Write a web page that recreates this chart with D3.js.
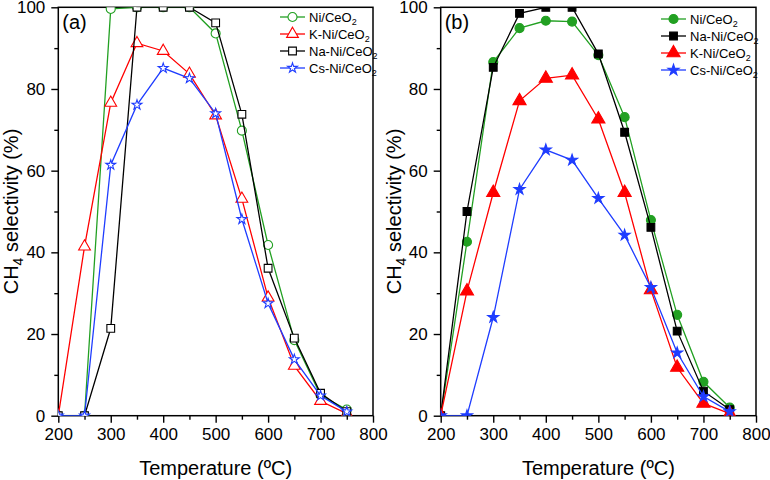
<!DOCTYPE html>
<html><head><meta charset="utf-8">
<script src="https://cdn.jsdelivr.net/npm/d3@7"></script>
<style>body{margin:0;background:#fff}svg{display:block}text{font-family:"Liberation Sans",Arial,sans-serif}</style>
</head><body>
<svg id="c" width="770" height="480"></svg>
<script>
const temps = [200,250,300,350,400,450,500,550,600,650,700,750];
// panel (a)
const aNi   = [0,0,99.6,100,100,100,93.6,69.8,41.8,18.5,5,1.5];
const aK    = [0,41.4,76.6,91.2,89.3,83.7,73.5,53.1,28.9,12.2,3.6,0.5];
const aNa   = [0,0,21.4,100,100,100,96.2,73.8,36.1,19,5.5,1];
const aCs   = [0,0,61.4,76.1,85.1,82.6,74,48.1,27.5,13.8,4.9,1];
// panel (b)
const bNi   = [0,42.6,86.6,94.9,96.7,96.5,88.3,73.1,47.9,24.7,8.3,2];
const bNa   = [0,50,85.3,98.5,100,100,88.6,69.4,46.1,20.7,6,1.5];
const bK    = [0,30.5,54.6,77.1,82.6,83.4,72.6,54.6,30.8,11.8,3,0.5];
const bCs   = [0,0,24.1,55.4,65.1,62.6,53.2,44.2,31.4,15.4,4.7,1];
const xTicks = [200,300,400,500,600,700,800];
const xMinor = [250,350,450,550,650,750];
const yTicks = [0,20,40,60,80,100];
const yMinor = [10,30,50,70,90];

const GREEN="#22a022", RED="#ff0000", BLACK="#000000", BLUE="#1f3dff";

const svg = d3.select("#c");
const FONT = '"Liberation Sans",Arial,sans-serif';

function panel(opt){
  const x = d3.scaleLinear().domain([200,800]).range([opt.x0, opt.x1]);
  const y = d3.scaleLinear().domain([0,100]).range([415.7, 7.3]);
  const g = svg.append("g");
  const cid = "clip"+opt.id;
  svg.append("defs").append("clipPath").attr("id",cid).append("rect")
    .attr("x",opt.x0).attr("y",y(100)).attr("width",opt.x1-opt.x0).attr("height",y(0)-y(100));
  g.append("g").attr("transform",`translate(0,${y(0)})`)
    .call(d3.axisBottom(x).tickValues(xTicks).tickSize(7).tickPadding(5).tickFormat(d3.format("d")));
  g.append("g").attr("transform",`translate(0,${y(0)})`)
    .call(d3.axisBottom(x).tickValues(xMinor).tickSize(4).tickFormat(""));
  g.append("g").attr("transform",`translate(${opt.x0},0)`)
    .call(d3.axisLeft(y).tickValues(yTicks).tickSize(7).tickPadding(6).tickFormat(d3.format("d")));
  g.append("g").attr("transform",`translate(${opt.x0},0)`)
    .call(d3.axisLeft(y).tickValues(yMinor).tickSize(4).tickFormat(""));
  g.selectAll(".domain").remove();
  g.selectAll(".tick line").attr("stroke","#000").attr("stroke-width",1.4);
  g.selectAll(".tick text").attr("font-size",17).attr("font-family",FONT).attr("fill","#000");
  g.append("rect").attr("x",opt.x0).attr("y",y(100)).attr("width",opt.x1-opt.x0).attr("height",y(0)-y(100))
    .attr("fill","none").attr("stroke","#000").attr("stroke-width",1.5);
  const plot = g.append("g").attr("clip-path",`url(#${cid})`);
  const line = d3.line().x((d,i)=>x(temps[i])).y(d=>y(d));
  opt.series.forEach(s=>{
    const sg = plot.append("g");
    sg.append("path").datum(s.data).attr("d",line).attr("fill","none").attr("stroke",s.color).attr("stroke-width",1.3);
    sg.selectAll("path.m").data(s.data).enter().append("path").attr("class","m")
      .attr("d",d3.symbol().type(s.sym).size(s.size))
      .attr("transform",(d,i)=>`translate(${x(temps[i])},${y(d)})`)
      .attr("fill",opt.filled? s.color : "#fff").attr("stroke",s.color).attr("stroke-width",1.1);
  });
  const lg = g.append("g");
  opt.series.forEach((s,i)=>{
    const yy = opt.legY + i*17;
    lg.append("line").attr("x1",opt.legX).attr("x2",opt.legX+25).attr("y1",yy).attr("y2",yy)
      .attr("stroke",s.color).attr("stroke-width",1.3);
    lg.append("path").attr("d",d3.symbol().type(s.sym).size(s.size))
      .attr("transform",`translate(${opt.legX+12.5},${yy})`)
      .attr("fill",opt.filled? s.color : "#fff").attr("stroke",s.color).attr("stroke-width",1.1);
    const t = lg.append("text").attr("x",opt.legX+29).attr("y",yy+4.5).attr("font-size",13).attr("fill","#000");
    t.append("tspan").text(s.name);
    t.append("tspan").attr("font-size",9).attr("dy",3).text("2");
  });
  g.append("text").attr("x",opt.x0+4).attr("y",29).attr("font-size",20).text(opt.label);
  g.append("text").attr("x",(opt.x0+opt.x1)/2).attr("y",475).attr("text-anchor","middle")
    .attr("font-size",20).text("Temperature (ºC)");
  const yt = g.append("text").attr("transform",`translate(${opt.x0-40},${(y(0)+y(100))/2}) rotate(-90)`)
    .attr("text-anchor","middle").attr("font-size",20);
  yt.append("tspan").text("CH");
  yt.append("tspan").attr("font-size",14).attr("dy",5).text("4");
  yt.append("tspan").attr("dy",-5).text(" selectivity (%)");
}

panel({id:"a", x0:58.3, x1:373, label:"(a)", filled:false, legX:280, legY:17,
  series:[
    {name:"Ni/CeO", data:aNi, color:GREEN, sym:d3.symbolCircle, size:64},
    {name:"K-Ni/CeO", data:aK, color:RED, sym:d3.symbolTriangle, size:60},
    {name:"Na-Ni/CeO", data:aNa, color:BLACK, sym:d3.symbolSquare, size:60},
    {name:"Cs-Ni/CeO", data:aCs, color:BLUE, sym:d3.symbolStar, size:30}
  ]});
panel({id:"b", x0:440.7, x1:756, label:"(b)", filled:true, legX:661, legY:19,
  series:[
    {name:"Ni/CeO", data:bNi, color:GREEN, sym:d3.symbolCircle, size:64},
    {name:"Na-Ni/CeO", data:bNa, color:BLACK, sym:d3.symbolSquare, size:60},
    {name:"K-Ni/CeO", data:bK, color:RED, sym:d3.symbolTriangle, size:75},
    {name:"Cs-Ni/CeO", data:bCs, color:BLUE, sym:d3.symbolStar, size:38}
  ]});
</script>
</body></html>
